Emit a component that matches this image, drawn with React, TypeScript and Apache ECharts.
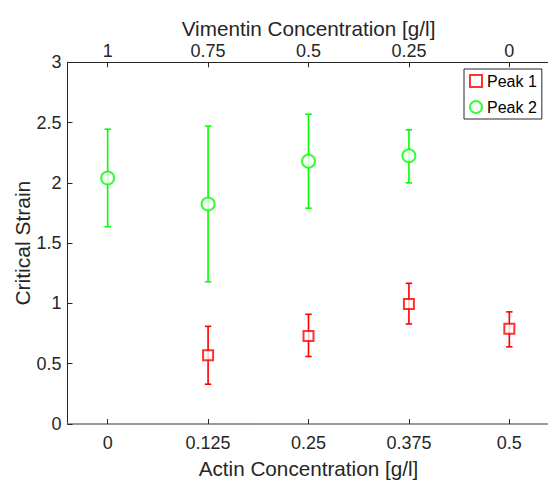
import React, { useEffect, useRef } from "react";
import * as echarts from "echarts";

const actinTicks = [0, 0.125, 0.25, 0.375, 0.5];
const actinLabels = ["0", "0.125", "0.25", "0.375", "0.5"];
const vimentinLabels = ["1", "0.75", "0.5", "0.25", "0"];

const peak1X = [0.125, 0.25, 0.375, 0.5];
const peak1Mean = [0.57, 0.73, 0.995, 0.79];
const peak1Low = [0.33, 0.56, 0.83, 0.64];
const peak1High = [0.81, 0.91, 1.167, 0.93];

const peak2X = [0, 0.125, 0.25, 0.375];
const peak2Mean = [2.04, 1.824, 2.18, 2.225];
const peak2Low = [1.636, 1.18, 1.79, 2.0];
const peak2High = [2.445, 2.47, 2.57, 2.44];

const FONT = "'Liberation Sans', Arial, Helvetica, sans-serif";
const TXT = "#262626";
const RED = "#ff0000";
const GREEN = "#00ff00";

function labelFor(labels: string[]) {
  return (v: number) => {
    const i = actinTicks.findIndex((t) => Math.abs(t - v) < 1e-9);
    return i >= 0 ? labels[i] : "";
  };
}

function errorSeries(name: string, xs: number[], lo: number[], hi: number[], color: string) {
  return {
    type: "custom",
    name: name + " err",
    xAxisIndex: 0,
    yAxisIndex: 0,
    silent: true,
    z: 2,
    encode: { x: 0, y: [1, 2] },
    data: xs.map((x, i) => [x, lo[i], hi[i]]),
    renderItem: (params: any, api: any) => {
      const x = api.value(0);
      const pLo = api.coord([x, api.value(1)]);
      const pHi = api.coord([x, api.value(2)]);
      const cap = 3.2;
      const style = { stroke: color, lineWidth: 1.6 };
      return {
        type: "group",
        children: [
          { type: "line", shape: { x1: pLo[0], y1: pLo[1], x2: pHi[0], y2: pHi[1] }, style },
          { type: "line", shape: { x1: pLo[0] - cap, y1: pLo[1], x2: pLo[0] + cap, y2: pLo[1] }, style },
          { type: "line", shape: { x1: pHi[0] - cap, y1: pHi[1], x2: pHi[0] + cap, y2: pHi[1] }, style },
        ],
      };
    },
  };
}

export default function App() {
  const ref = useRef<HTMLDivElement>(null);
  useEffect(() => {
    if (!ref.current) return;
    const chart = echarts.init(ref.current, null, { renderer: "svg" });
    const axisCommon = {
      type: "value",
      min: -0.05,
      max: 0.55,
      splitLine: { show: false },
      axisLine: { show: true, onZero: false, lineStyle: { color: TXT, width: 1 } },
      axisTick: { show: true, inside: true, length: 5, customValues: actinTicks, lineStyle: { color: TXT } },
      nameLocation: "middle",
      nameMoveOverlap: false,
      nameTextStyle: { fontFamily: FONT, fontSize: 20.7, color: TXT },
    };
    chart.setOption({
      animation: false,
      backgroundColor: "#ffffff",
      textStyle: { fontFamily: FONT },
      grid: { left: 67.5, top: 62.3, right: 0.5, bottom: 56, containLabel: false, outerBoundsMode: "none" },
      legend: {
        orient: "vertical",
        left: 464,
        top: 69,
        padding: [4, 5, 4, 5],
        itemGap: 10,
        itemWidth: 12,
        itemHeight: 12,
        borderColor: TXT,
        borderWidth: 1,
        backgroundColor: "#ffffff",
        textStyle: { fontFamily: FONT, fontSize: 16, color: "#000" },
        data: ["Peak 1", "Peak 2"],
      },
      xAxis: [
        {
          ...axisCommon,
          position: "bottom",
          name: "Actin Concentration [g/l]",
          nameGap: 34,
          axisLine: { show: true, onZero: false, lineStyle: { color: "#7a7a7a", width: 1.6 } },
          axisLabel: {
            customValues: actinTicks,
            formatter: labelFor(actinLabels),
            fontFamily: FONT,
            fontSize: 18,
            color: TXT,
            margin: 10,
          },
        },
        {
          ...axisCommon,
          position: "top",
          name: "Vimentin Concentration [g/l]",
          nameGap: 23,
          axisLabel: {
            customValues: actinTicks,
            formatter: labelFor(vimentinLabels),
            fontFamily: FONT,
            fontSize: 18,
            color: TXT,
            margin: 2,
          },
        },
      ],
      yAxis: [
        {
          type: "value",
          min: 0,
          max: 3,
          interval: 0.5,
          position: "left",
          name: "Critical Strain",
          nameLocation: "middle",
          nameGap: 35,
          nameMoveOverlap: false,
          nameTextStyle: { fontFamily: FONT, fontSize: 21, color: TXT },
          splitLine: { show: false },
          axisLine: { show: true, onZero: false, lineStyle: { color: TXT, width: 1 } },
          axisTick: { show: true, inside: true, length: 5, lineStyle: { color: TXT } },
          axisLabel: { fontFamily: FONT, fontSize: 18, color: TXT, margin: 6 },
        },
      ],
      series: [
        errorSeries("Peak 1", peak1X, peak1Low, peak1High, RED),
        errorSeries("Peak 2", peak2X, peak2Low, peak2High, GREEN),
        {
          type: "scatter",
          name: "Peak 1",
          symbol: "emptyRect",
          symbolSize: 10,
          z: 3,
          itemStyle: { color: RED, borderColor: RED, borderWidth: 1.6 },
          data: peak1X.map((x, i) => [x, peak1Mean[i]]),
        },
        {
          type: "scatter",
          name: "Peak 2",
          symbol: "emptyCircle",
          symbolSize: 13,
          z: 3,
          itemStyle: { color: GREEN, borderColor: GREEN, borderWidth: 1.6 },
          data: peak2X.map((x, i) => [x, peak2Mean[i]]),
        },
      ],
    });
    return () => chart.dispose();
  }, []);
  return (
    <div style={{ position: "fixed", left: 0, top: 0, width: 548, height: 480, overflow: "hidden", background: "#fff" }}>
      <div ref={ref} style={{ width: 550, height: 480 }} />
    </div>
  );
}
